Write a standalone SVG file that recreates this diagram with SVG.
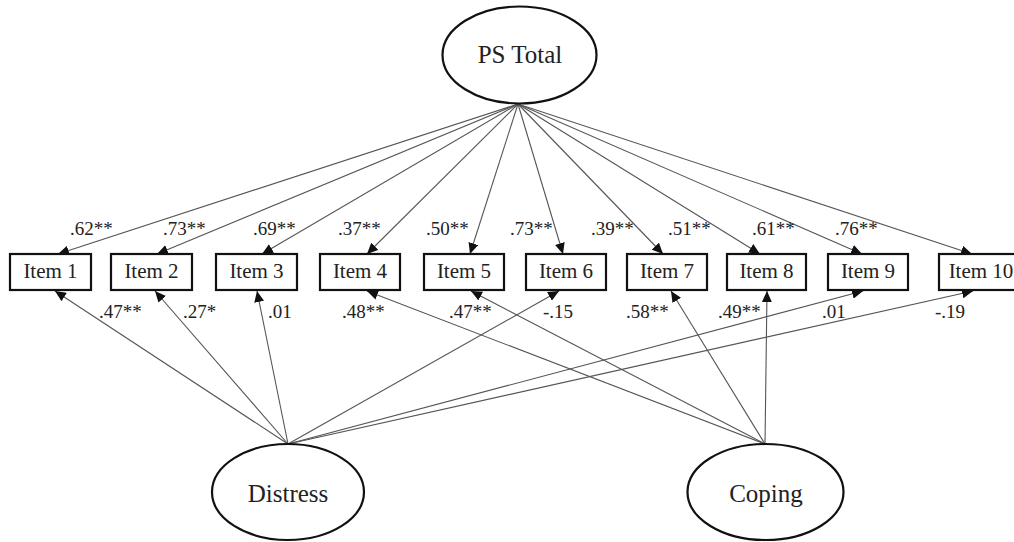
<svg xmlns="http://www.w3.org/2000/svg" width="1014" height="542" viewBox="0 0 1014 542">
<style>
.bg{fill:#fff}
.box{fill:#fff;stroke:#111;stroke-width:2.2}
.ell{fill:#fff;stroke:#111;stroke-width:2.2}
.lbl{font-family:"Liberation Serif","Times New Roman",serif;font-size:21px;fill:#222;text-anchor:middle}
.big{font-family:"Liberation Serif","Times New Roman",serif;font-size:25px;fill:#222;text-anchor:middle}
.coef{font-family:"Liberation Serif","Times New Roman",serif;font-size:19px;fill:#222}
.edge{stroke:#555;stroke-width:1.1;fill:none;marker-end:url(#arr)}
</style>
<defs>
<marker id="arr" markerUnits="userSpaceOnUse" markerWidth="11" markerHeight="10" viewBox="0 0 11 10" refX="11" refY="5" orient="auto">
<path d="M0,0 L11,5 L0,10 z" fill="#111"/>
</marker>
</defs>
<rect class="bg" x="0" y="0" width="1014" height="542"/>
<g id="connectors">
<line class="edge" x1="518" y1="104" x2="58" y2="254"/>
<line class="edge" x1="518" y1="104" x2="157" y2="254"/>
<line class="edge" x1="518" y1="104" x2="262" y2="254"/>
<line class="edge" x1="518" y1="104" x2="367" y2="254"/>
<line class="edge" x1="518" y1="104" x2="470" y2="254"/>
<line class="edge" x1="518" y1="104" x2="563" y2="254"/>
<line class="edge" x1="518" y1="104" x2="663" y2="254"/>
<line class="edge" x1="518" y1="104" x2="760" y2="254"/>
<line class="edge" x1="518" y1="104" x2="862" y2="254"/>
<line class="edge" x1="518" y1="104" x2="972" y2="254"/>
<line class="edge" x1="288" y1="444" x2="55" y2="291"/>
<line class="edge" x1="288" y1="444" x2="155" y2="291"/>
<line class="edge" x1="288" y1="444" x2="257" y2="291"/>
<line class="edge" x1="288" y1="444" x2="559" y2="291"/>
<line class="edge" x1="288" y1="444" x2="863" y2="291"/>
<line class="edge" x1="288" y1="444" x2="973" y2="291"/>
<line class="edge" x1="765" y1="444" x2="367" y2="291"/>
<line class="edge" x1="765" y1="444" x2="471" y2="291"/>
<line class="edge" x1="765" y1="444" x2="671" y2="291"/>
<line class="edge" x1="765" y1="444" x2="767" y2="291"/>
</g>
<g id="coefficients">
<text class="coef" x="70" y="235">.62**</text>
<text class="coef" x="163" y="235">.73**</text>
<text class="coef" x="253" y="235">.69**</text>
<text class="coef" x="338" y="235">.37**</text>
<text class="coef" x="426" y="235">.50**</text>
<text class="coef" x="510" y="235">.73**</text>
<text class="coef" x="591" y="235">.39**</text>
<text class="coef" x="668" y="235">.51**</text>
<text class="coef" x="752" y="235">.61**</text>
<text class="coef" x="835" y="235">.76**</text>
<text class="coef" x="99" y="318">.47**</text>
<text class="coef" x="183" y="318">.27*</text>
<text class="coef" x="268" y="318">.01</text>
<text class="coef" x="342" y="318">.48**</text>
<text class="coef" x="449" y="318">.47**</text>
<text class="coef" x="543" y="318">-.15</text>
<text class="coef" x="626" y="318">.58**</text>
<text class="coef" x="718" y="318">.49**</text>
<text class="coef" x="822" y="318">.01</text>
<text class="coef" x="935" y="318">-.19</text>
</g>
<g id="ps-total">
<ellipse class="ell" cx="519.5" cy="55" rx="77" ry="48.5"/>
<text class="big" x="520" y="63">PS Total</text>
</g>
<g id="item1"><rect class="box" x="10" y="254" width="81" height="36"/><text class="lbl" x="50.5" y="278">Item 1</text></g>
<g id="item2"><rect class="box" x="111" y="254" width="81" height="36"/><text class="lbl" x="151.5" y="278">Item 2</text></g>
<g id="item3"><rect class="box" x="216" y="254" width="81" height="36"/><text class="lbl" x="256.5" y="278">Item 3</text></g>
<g id="item4"><rect class="box" x="320" y="254" width="80" height="36"/><text class="lbl" x="360" y="278">Item 4</text></g>
<g id="item5"><rect class="box" x="424" y="254" width="80" height="36"/><text class="lbl" x="464" y="278">Item 5</text></g>
<g id="item6"><rect class="box" x="526" y="254" width="80" height="36"/><text class="lbl" x="566" y="278">Item 6</text></g>
<g id="item7"><rect class="box" x="627" y="254" width="80" height="36"/><text class="lbl" x="667" y="278">Item 7</text></g>
<g id="item8"><rect class="box" x="727" y="254" width="79" height="36"/><text class="lbl" x="766.5" y="278">Item 8</text></g>
<g id="item9"><rect class="box" x="828" y="254" width="80" height="36"/><text class="lbl" x="868" y="278">Item 9</text></g>
<g id="item10"><rect class="box" x="939" y="254" width="90" height="36"/><text class="lbl" x="981" y="278">Item 10</text></g>
<g id="distress">
<ellipse class="ell" cx="288" cy="492" rx="76" ry="48"/>
<text class="big" x="288" y="502">Distress</text>
</g>
<g id="coping">
<ellipse class="ell" cx="765.5" cy="492" rx="78" ry="48"/>
<text class="big" x="766" y="502">Coping</text>
</g>
</svg>
